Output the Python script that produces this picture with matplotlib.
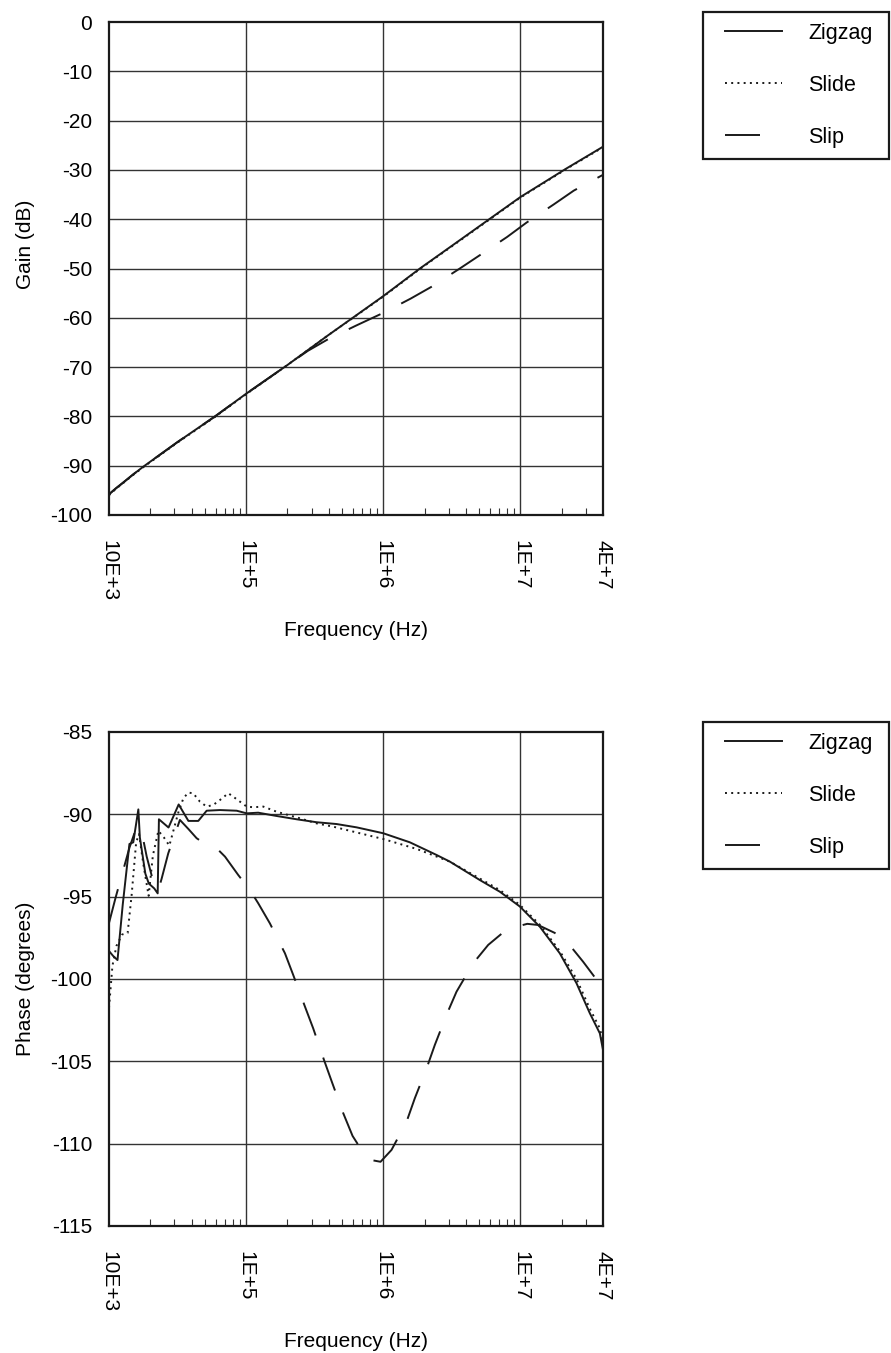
import numpy as np
import matplotlib
matplotlib.use("Agg")
import matplotlib.pyplot as plt
from matplotlib.patches import Rectangle
from matplotlib.ticker import FixedLocator, NullFormatter

plt.rcParams['font.family'] = ['Liberation Sans', 'DejaVu Sans']
plt.rcParams['font.size'] = 15

# frequencies are stored as log10(Hz)
series_names = ["Zigzag", "Slide", "Slip"]

# --- gain (dB) ---
zig_gain_logf = [4.0, 4.05, 4.1, 4.175, 4.25, 4.5, 4.773, 5.0, 5.3, 5.6, 6.0, 6.267, 6.5, 7.0, 7.336, 7.602]
zig_gain = [-95.8, -94.6, -93.5, -91.8, -90.2, -85.2, -80.0, -75.4, -69.6, -63.5, -55.6, -50.0, -45.4,
            -35.5, -29.7, -25.3]

slide_gain_logf = [4.0, 4.05, 4.1, 4.175, 4.25, 4.5, 4.773, 5.0, 5.3, 5.6, 6.0, 6.267, 6.5, 7.0, 7.336, 7.602]
slide_gain = [-96.0, -94.7, -93.6, -91.9, -90.3, -85.3, -80.1, -75.5, -69.6, -63.5, -55.7, -50.1, -45.5,
              -35.6, -29.8, -25.4]

slip_gain_logf = [4.0, 4.05, 4.1, 4.175, 4.25, 4.5, 4.773, 5.0, 5.3, 5.45, 5.6, 5.8, 6.0, 6.2, 6.352,
                  6.558, 6.704, 6.903, 7.044, 7.243, 7.389, 7.602]
slip_gain = [-95.8, -94.6, -93.5, -91.8, -90.2, -85.2, -80.0, -75.4, -69.6, -66.7, -64.3, -61.6, -59.0,
             -56.1, -53.7, -50.0, -47.3, -43.6, -40.7, -37.0, -34.2, -31.0]

# --- phase (degrees) ---
zig_phase_logf = [4.0, 4.03, 4.062, 4.10, 4.149, 4.177, 4.214, 4.225, 4.265, 4.29, 4.33, 4.355,
                  4.364, 4.434, 4.508, 4.579, 4.651, 4.712, 4.809, 4.931, 5.004, 5.088, 5.222,
                  5.368, 5.514, 5.660, 5.805, 6.0, 6.194, 6.389, 6.485, 6.704, 6.850, 6.996,
                  7.141, 7.287, 7.409, 7.506, 7.579, 7.602]
zig_phase = [-98.3, -98.6, -98.85, -95.5, -91.8, -91.7, -89.7, -91.4, -93.6, -94.2, -94.5, -94.8,
             -90.3, -90.8, -89.4, -90.4, -90.4, -89.78, -89.74, -89.78, -89.94, -89.9, -90.1,
             -90.3, -90.48, -90.59, -90.79, -91.15, -91.7, -92.47, -92.87, -93.99, -94.7, -95.6,
             -96.82, -98.44, -100.26, -102.08, -103.3, -104.3]

slide_phase_logf = [4.0, 4.025, 4.054, 4.095, 4.136, 4.165, 4.198, 4.219, 4.25, 4.289, 4.32, 4.36,
                    4.40, 4.44, 4.505, 4.542, 4.578, 4.614, 4.663, 4.712, 4.76, 4.809, 4.87, 4.906,
                    4.955, 5.004, 5.052, 5.125, 5.222, 5.392, 5.514, 5.635, 5.781, 6.0, 6.243,
                    6.485, 6.704, 6.850, 6.996, 7.141, 7.287, 7.409, 7.506, 7.579, 7.602]
slide_phase = [-101.75, -99.2, -98.0, -97.3, -97.2, -94.9, -91.7, -91.2, -93.0, -94.95, -92.5, -91.0,
               -91.4, -91.9, -89.9, -89.03, -88.68, -88.72, -89.23, -89.53, -89.43, -89.13, -88.72, -88.93,
               -89.23, -89.53, -89.57, -89.53, -89.84, -90.24, -90.55, -90.75, -91.05, -91.5, -92.1,
               -92.87, -93.9, -94.6, -95.5, -96.7, -98.3, -100.0, -101.8, -103.0, -103.8]

slip_phase_logf = [4.0, 4.05, 4.10, 4.15, 4.20, 4.238, 4.275, 4.32, 4.36, 4.384, 4.432, 4.517,
                   4.58, 4.639, 4.712, 4.785, 4.846, 4.942, 5.028, 5.088, 5.173, 5.283, 5.343,
                   5.429, 5.489, 5.567, 5.623, 5.708, 5.776, 5.85, 5.915, 5.98, 6.06, 6.17, 6.23,
                   6.316, 6.376, 6.466, 6.534, 6.655, 6.765, 6.87, 6.972, 7.05, 7.129, 7.25,
                   7.348, 7.457, 7.603]
slip_phase = [-96.6, -95.0, -93.5, -92.0, -90.8, -91.05, -92.57, -94.0, -94.6, -93.9, -92.37, -90.34,
              -90.9, -91.45, -91.86, -92.06, -92.57, -93.68, -94.6, -95.4, -96.62, -98.44, -99.75,
              -101.68, -103.0, -104.9, -106.2, -108.15, -109.53, -110.5, -111.0, -111.1, -110.38, -108.66, -107.24,
              -105.42, -104.0, -102.08, -100.77, -99.05, -97.93, -97.2, -96.82, -96.65, -96.72, -97.2,
              -97.83, -98.95, -100.57]

xtick_vals = [1e4, 1e5, 1e6, 1e7, 4e7]
xtick_labels = ["10E+3", "1E+5", "1E+6", "1E+7", "4E+7"]
gain_ticks = list(range(0, -101, -10))
phase_ticks = list(range(-85, -116, -5))

W, H = 891, 1353
fig = plt.figure(figsize=(W / 100, H / 100), dpi=100)

lw = 1.4
styles = {
    "Zigzag": dict(color="#1a1a1a", lw=lw, ls="-", zorder=4),
    "Slide": dict(color="#1a1a1a", lw=lw, ls=(0, (1, 2.2)), zorder=3),
    "Slip": dict(color="#1a1a1a", lw=lw, ls=(0, (18, 12)), zorder=3),
}


def setup_panel(ax, yticks, ylabel):
    ax.set_xscale("log")
    ax.set_xlim(1e4, 4e7)
    ax.set_ylim(yticks[-1], yticks[0])
    ax.set_yticks(yticks)
    ax.set_yticklabels([str(t) for t in yticks])
    ax.xaxis.set_major_locator(FixedLocator(xtick_vals))
    ax.set_xticklabels(xtick_labels, rotation=-90, va="top", ha="center")
    minors = [m * 10 ** e for e in range(4, 8) for m in range(2, 10) if m * 10 ** e < 4e7]
    ax.xaxis.set_minor_locator(FixedLocator(minors))
    ax.xaxis.set_minor_formatter(NullFormatter())
    ax.tick_params(axis="x", which="major", length=0, pad=18)
    ax.tick_params(axis="x", which="minor", direction="in", length=5, width=0.8, color="#333333")
    ax.tick_params(axis="y", length=0, pad=12)
    for x in xtick_vals[1:4]:
        ax.axvline(x, color="#333333", lw=1.0, zorder=1)
    for y in yticks[1:-1]:
        ax.axhline(y, color="#333333", lw=1.0, zorder=1)
    for s in ax.spines.values():
        s.set_linewidth(1.6)
        s.set_color("#1a1a1a")
    ax.set_xlabel("Frequency (Hz)", labelpad=14)
    ax.set_ylabel(ylabel)


ax1 = fig.add_axes([109 / W, 1 - 515 / H, 494 / W, 493 / H])
ax2 = fig.add_axes([109 / W, 1 - 1226 / H, 494 / W, 494 / H])

setup_panel(ax1, gain_ticks, "Gain (dB)")
setup_panel(ax2, phase_ticks, "Phase (degrees)")
ax1.yaxis.set_label_coords(-0.15, 0.55)
ax2.yaxis.set_label_coords(-0.15, 0.5)

gain_data = {
    "Zigzag": (zig_gain_logf, zig_gain),
    "Slide": (slide_gain_logf, slide_gain),
    "Slip": (slip_gain_logf, slip_gain),
}
phase_data = {
    "Zigzag": (zig_phase_logf, zig_phase),
    "Slide": (slide_phase_logf, slide_phase),
    "Slip": (slip_phase_logf, slip_phase),
}

for ax, data, top_px in [(ax1, gain_data, 12), (ax2, phase_data, 722)]:
    for name in series_names:
        lf, vals = data[name]
        ax.plot(10 ** np.array(lf), vals, label=name, **styles[name])
    # legend box sits to the right of the plot, entries placed inside it
    fig.add_artist(Rectangle((703 / W, 1 - (top_px + 147) / H), 186 / W, 147 / H,
                             transform=fig.transFigure, fill=False,
                             edgecolor="#1a1a1a", lw=1.6))
    ax.legend(loc="upper left", bbox_to_anchor=(725 / W, 1 - (top_px + 11) / H),
              bbox_transform=fig.transFigure, borderaxespad=0, borderpad=0,
              frameon=False, handlelength=2.65, handletextpad=1.2,
              labelspacing=1.44, fontsize=15.5)

fig.savefig("out.png", dpi=100)
